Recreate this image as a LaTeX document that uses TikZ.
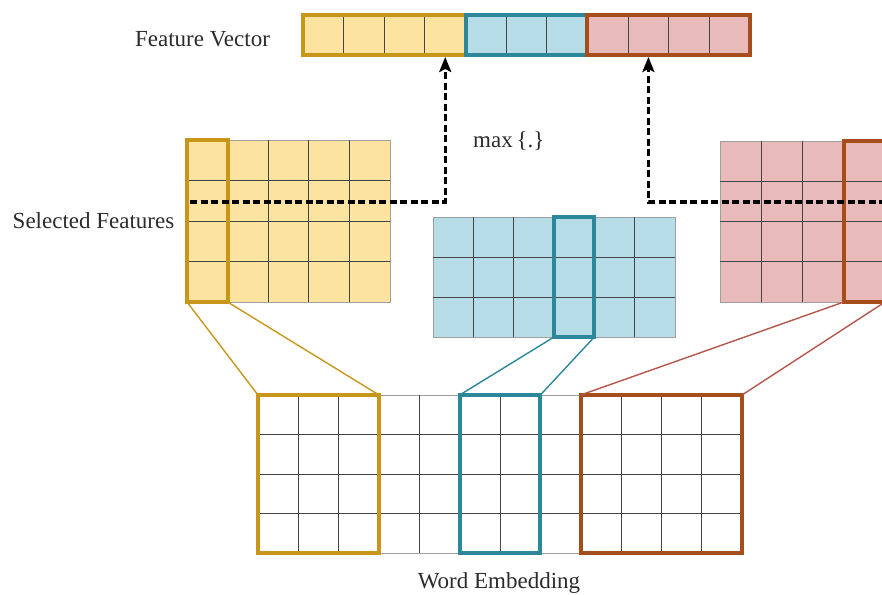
\documentclass[tikz,border=0pt]{standalone}
\usepackage{fontspec}
\setmainfont{Liberation Serif}
\usetikzlibrary{calc,arrows.meta}

\definecolor{yfill}{HTML}{FCE3A0}
\definecolor{yline}{HTML}{C8961A}
\definecolor{bfill}{HTML}{B6DCE7}
\definecolor{bline}{HTML}{2B8799}
\definecolor{rfill}{HTML}{E8BBBA}
\definecolor{rline}{HTML}{A54E1B}
\definecolor{rlink}{HTML}{B5574A}
\definecolor{rulecol}{HTML}{444444}
\definecolor{txt}{HTML}{2B2B2B}

% inner column / row rules of a grid node: #1 node, #2 number of columns (rows)
\newcommand\colrules[2]{%
  \pgfmathtruncatemacro\nlast{#2-1}%
  \foreach \k in {1,...,\nlast}{%
    \draw[gridline] ($(#1.north west)!\k/#2!(#1.north east)$) -- ($(#1.south west)!\k/#2!(#1.south east)$);}}
\newcommand\rowrules[2]{%
  \pgfmathtruncatemacro\nlast{#2-1}%
  \foreach \k in {1,...,\nlast}{%
    \draw[gridline] ($(#1.north west)!\k/#2!(#1.south west)$) -- ($(#1.north east)!\k/#2!(#1.south east)$);}}

\begin{document}
\begin{tikzpicture}[x=1pt, y=-1pt,
  gridbox/.style={rectangle, draw=gray!75, line width=0.8pt, inner sep=0pt, outer sep=0pt, anchor=north west},
  gridline/.style={draw=rulecol, line width=1pt},
  fvcell/.style={rectangle, draw=rulecol, line width=1pt, inner sep=0pt, outer sep=0pt,
                 minimum width=40.636pt, minimum height=40pt},
  selbox/.style={rectangle, line width=4pt, inner sep=0pt, outer sep=0pt, anchor=north west},
  link/.style={line width=1.4pt},
  maxflow/.style={line width=3.4pt, dash pattern=on 7pt off 3.5pt, shorten >=2pt,
                  -{Stealth[length=15pt,width=12pt,inset=3pt]}},
  lbl/.style={font=\fontsize{23}{27}\selectfont, text=txt, inner sep=0pt, anchor=base}]

\useasboundingbox (0,0) rectangle (882,594);
\clip (0,0) rectangle (882,594);

% ---- feature vector ----
\foreach \i in {0,...,3}  {\node[fvcell, fill=yfill] (fv\i) at ({303+(\i+0.5)*40.636},35) {};}
\foreach \i in {4,...,6}  {\node[fvcell, fill=bfill] (fv\i) at ({303+(\i+0.5)*40.636},35) {};}
\foreach \i in {7,...,10} {\node[fvcell, fill=rfill] (fv\i) at ({303+(\i+0.5)*40.636},35) {};}
\draw[draw=yline, line width=4pt] (fv0.north west) rectangle (fv3.south east);
\draw[draw=bline, line width=4pt] (fv4.north west) rectangle (fv6.south east);
\draw[draw=rline, line width=4pt] (fv7.north west) rectangle (fv10.south east);

% ---- selected feature maps ----
\node[gridbox, fill=yfill, minimum width=203pt, minimum height=162pt] (gL) at (187,140) {};
\colrules{gL}{5}\rowrules{gL}{4}
\node[gridbox, fill=bfill, minimum width=242pt, minimum height=120pt] (gM) at (433,217) {};
\colrules{gM}{6}\rowrules{gM}{3}
\node[gridbox, fill=rfill, minimum width=165pt, minimum height=161pt] (gR) at (720,141) {};
\colrules{gR}{4}\rowrules{gR}{4}

\node[selbox, draw=yline, minimum width=40.6pt, minimum height=162pt] (sL) at (187,140) {};
\node[selbox, draw=bline, minimum width=40.33pt, minimum height=120pt] (sM) at (554,217) {};
\node[selbox, draw=rline, minimum width=41.25pt, minimum height=161pt] (sR) at (843.75,141) {};

% ---- word embedding ----
\node[gridbox, fill=white, minimum width=484pt, minimum height=158pt] (gE) at (258,395) {};
\colrules{gE}{12}\rowrules{gE}{4}
\node[selbox, draw=yline, minimum width=121pt, minimum height=158pt] (eY) at (258,395) {};
\node[selbox, draw=bline, minimum width=80.67pt, minimum height=158pt] (eB) at (459.7,395) {};
\node[selbox, draw=rline, minimum width=161.3pt, minimum height=158pt] (eR) at (580.7,395) {};

% ---- windows linking embedding and feature maps ----
\draw[link, yline] (sL.south west) -- (eY.north west);
\draw[link, yline] (sL.south east) -- (eY.north east);
\draw[link, bline] (sM.south west) -- (eB.north west);
\draw[link, bline] (sM.south east) -- (eB.north east);
\draw[link, rlink] (sR.south west) -- (eR.north west);
\draw[link, rlink] (sR.south east) -- (eR.north east);

% ---- max pooling ----
\coordinate (dL) at (190,202);
\coordinate (dR) at (886,202);
\draw[maxflow] (dL) -| (fv3.south);
\draw[maxflow] (dR) -| (fv8.south);

% ---- labels ----
\node[lbl] (tFV) at (202.5,46) {Feature Vector};
\node[lbl] (tSF) at (93.5,228) {Selected Features};
\node[lbl, anchor=base west] (tMax) at (473,147) {max\,\{.\}};
\node[lbl] (tWE) at (499,588) {Word Embedding};
\end{tikzpicture}
\end{document}
